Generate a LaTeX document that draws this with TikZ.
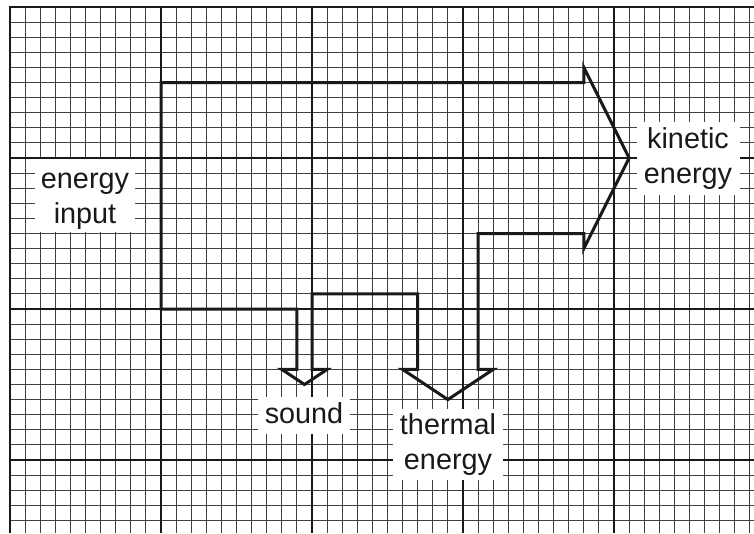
\documentclass[tikz,border=0pt]{standalone}
\usepackage{fontspec}
\setmainfont{Liberation Sans}
\begin{document}
\begin{tikzpicture}[x=1pt,y=-1pt,
  minor/.style={line width=0.9pt, black!75},
  major/.style={line width=1.5pt, black!90},
  border/.style={line width=2.2pt, black!90},
  energyarrow/.style={line width=3pt, black!90, line join=miter},
  lbl/.style={fill=white, align=center, text=black!90, font=\fontsize{28.8}{35}\selectfont, inner sep=0pt}]
\useasboundingbox (0,0) rectangle (754,533);
\fill[white] (0,0) rectangle (754,533);
\begin{scope}
  \clip (0,0) rectangle (754,533);
  \foreach \i in {1,...,49} \draw[minor] ({10+15.1*\i},7) -- ({10+15.1*\i},533);
  \foreach \j in {1,...,35} \draw[minor] (10,{7+15.1*\j}) -- (754,{7+15.1*\j});
  \foreach \i in {10,20,30,40} \draw[major] ({10+15.1*\i},7) -- ({10+15.1*\i},533);
  \foreach \j in {10,20,30} \draw[major] (10,{7+15.1*\j}) -- (754,{7+15.1*\j});
  \draw[border] (10,533) -- (10,7) -- (754,7);
\end{scope}
\begin{scope}[shift={(10,7)}, x=15.1pt, y=-15.1pt]
  \draw[energyarrow] (10,5) -- (38,5) -- (38,4) -- (41,10) -- (38,16) -- (38,15)
    -- (31,15) -- (31,24) -- (32,24) -- (29,26) -- (26,24) -- (27,24) -- (27,19)
    -- (20,19) -- (20,24) -- (21,24) -- (19.5,25) -- (18,24) -- (19,24) -- (19,20)
    -- (10,20) -- cycle;
\end{scope}
\node[lbl, minimum width=100pt, minimum height=73pt] (input) at (85,195.8) {\rule{0pt}{26pt}energy\\input};
\node[lbl, minimum width=103pt, minimum height=73pt] (kinetic) at (688,158.3) {kinetic\\energy};
\node[lbl, minimum width=92pt, minimum height=37pt] (sound) at (304,415) {\rule[-4pt]{0pt}{25pt}sound};
\node[lbl, minimum width=110pt, minimum height=71pt] (thermal) at (448,444.5) {thermal\\energy};
\end{tikzpicture}
\end{document}
